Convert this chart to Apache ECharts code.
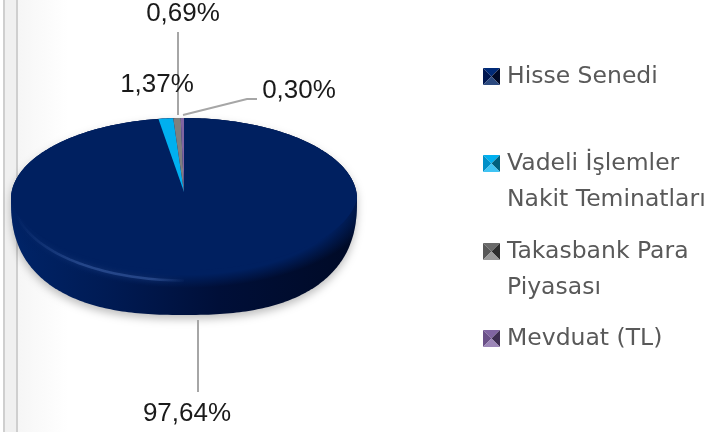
<!DOCTYPE html>
<html lang="en">
<head>
    <meta charset="UTF-8">
    <script src="https://cdn.jsdelivr.net/npm/echarts@6/dist/echarts.min.js"></script>
    <title>Fon dagilimi</title>
    <style>
        html, body { margin: 0; padding: 0; background: #fff; }
    </style>
</head>
<body>
<div id="main" style="width: 722px;height:432px;"></div>

<script>
    var categories = ['Hisse Senedi', 'Vadeli İşlemler\nNakit Teminatları', 'Takasbank Para\nPiyasası', 'Mevduat (TL)'];
    var shares = [97.64, 1.37, 0.69, 0.30];

    var colors = ['#002060', '#00b0f0', '#7f7f7f', '#8064a2'];
    var swatchShades = [
        ['#002a78', '#001650', '#000a28', '#2c4a80'],
        ['#00b0f0', '#0090c8', '#00607f', '#40c4f4'],
        ['#6a6a6a', '#585858', '#2e2e2e', '#9a9a9a'],
        ['#8064a2', '#6a5088', '#3e2e52', '#9c86b8']
    ];

    // label and leader placement, same order as shares
    var labelAt = [[187, 414], [157, 85], [183, 14], [299, 91]];
    var leaders = [
        [[198, 320], [198, 392]],
        null,
        [[178, 32], [178, 115]],
        [[183, 115], [247, 99], [257, 99]]
    ];
    var legendY = [68, 155, 243, 330];

    var cx = 184, cy = 199, rx = 173, ry = 81;
    var apexY = 192;
    var wallDrop = 116;

    // front half of the rim is pulled in a little so the soft face edge underneath shows
    function rim(angle) {
        var f = 1 - 0.12 * Math.max(0, -Math.cos(angle));
        return [cx + rx * f * Math.sin(angle), cy - ry * f * Math.cos(angle)];
    }

    function fmt(v) {
        return v.toFixed(2).replace('.', ',') + '%';
    }

    function arcPoints(from, to) {
        var pts = [];
        var steps = Math.max(2, Math.ceil((to - from) / 0.02));
        for (var i = 0; i <= steps; i++) {
            pts.push(rim(from + (to - from) * i / steps));
        }
        return pts;
    }

    var total = shares.reduce(function (a, b) { return a + b; }, 0);

    function renderSlice(params, api) {
        var before = 0;
        for (var i = 0; i < params.dataIndex; i++) before += shares[i];
        var a0 = before / total * Math.PI * 2;
        var a1 = (before + api.value(0)) / total * Math.PI * 2;
        var pts = [[cx, apexY]].concat(arcPoints(a0, a1));
        return {
            type: 'polygon',
            shape: { points: pts },
            style: { fill: colors[params.dataIndex] }
        };
    }

    // silhouette of the disc: ellipse at the back, squarer curve at the front
    function silhouette(deg) {
        var a = deg * Math.PI / 180;
        var s = Math.sin(a), c = Math.cos(a);
        if (c >= 0) return [rx * s, -ry * c];
        var p = 2 / 2.5;
        return [rx * (s < 0 ? -1 : 1) * Math.pow(Math.abs(s), p), wallDrop * Math.pow(-c, p)];
    }

    var graphics = [];

    // page frame on the left
    graphics.push({ type: 'rect', z: 0, shape: { x: 18, y: 0, width: 50, height: 432 }, style: {
        fill: new echarts.graphic.LinearGradient(0, 0, 1, 0, [
            { offset: 0, color: '#f6f6f6' }, { offset: 1, color: '#ffffff' }
        ])
    } });
    graphics.push({ type: 'rect', z: 0, shape: { x: 3, y: 0, width: 15, height: 432 }, style: { fill: '#f0f0f0' } });
    graphics.push({ type: 'rect', z: 0, shape: { x: 3, y: 0, width: 2, height: 432 }, style: { fill: '#cfcfcf' } });
    graphics.push({ type: 'rect', z: 0, shape: { x: 16, y: 0, width: 2, height: 432 }, style: { fill: '#cfcfcf' } });

    var wallPts = [], facePts = [];
    var k = ry / rx;
    for (var o = 0; o < 360; o += 1) {
        var p = silhouette(o);
        wallPts.push([cx + p[0], cy + p[1]]);
        facePts.push([p[0], p[1] / k]);
    }

    // side wall of the disc
    graphics.push({
        type: 'polygon', z: 1,
        shape: { points: wallPts },
        style: {
            fill: new echarts.graphic.LinearGradient(0, 0, 1, 0, [
                { offset: 0, color: '#002468' },
                { offset: 0.3, color: '#001a52' },
                { offset: 0.6, color: '#000f38' },
                { offset: 1, color: '#000a26' }
            ]),
            shadowColor: 'rgba(0,0,0,0.26)', shadowBlur: 8, shadowOffsetY: 4
        }
    });
    // top face: same outline as the wall, but a squashed radial gradient fades it into the wall
    graphics.push({
        type: 'polygon', z: 2, x: cx, y: cy, scaleY: k,
        shape: { points: facePts },
        style: {
            fill: new echarts.graphic.RadialGradient(0, 0, rx * 1.1, [
                { offset: 0, color: 'rgba(0,32,96,1)' },
                { offset: 0.85, color: 'rgba(0,32,96,1)' },
                { offset: 1, color: 'rgba(0,32,96,0)' }
            ], true)
        }
    });
    // light along the front left edge
    var glow = [];
    for (var g = 180; g <= 258; g += 2) {
        var t = g * Math.PI / 180;
        glow.push([cx + rx * Math.sin(t) * 0.985, cy - (ry + 0.5) * Math.cos(t)]);
    }
    graphics.push({
        type: 'polyline', z: 3,
        shape: { points: glow },
        style: {
            fill: null, lineWidth: 2.5,
            stroke: new echarts.graphic.LinearGradient(0, 0, 1, 0, [
                { offset: 0, color: 'rgba(60,95,165,0)' },
                { offset: 0.4, color: 'rgba(60,95,165,0.55)' },
                { offset: 0.8, color: 'rgba(60,95,165,0.55)' },
                { offset: 1, color: 'rgba(60,95,165,0)' }
            ]),
            shadowColor: 'rgba(60,95,165,0.7)', shadowBlur: 5
        }
    });

    // leaders and value labels
    shares.forEach(function (v, i) {
        if (leaders[i]) {
            graphics.push({
                type: 'polyline', z: 20,
                shape: { points: leaders[i] },
                style: { fill: null, stroke: '#a6a6a6', lineWidth: 2 }
            });
        }
        graphics.push({
            type: 'text', z: 21, x: labelAt[i][0], y: labelAt[i][1],
            style: {
                text: fmt(v), fill: '#1a1a1a', align: 'center', verticalAlign: 'middle',
                font: '26px "Liberation Sans"'
            }
        });
    });

    // legend with pyramid swatches
    categories.forEach(function (name, i) {
        var x = 483, y = legendY[i], s = 17, m = s / 2;
        var c = [x + m, y + m];
        var sh = swatchShades[i];
        var tris = [
            [[x, y], [x + s, y], c],
            [[x, y], [x, y + s], c],
            [[x + s, y], [x + s, y + s], c],
            [[x, y + s], [x + s, y + s], c]
        ];
        tris.forEach(function (pts, n) {
            graphics.push({ type: 'polygon', z: 20, shape: { points: pts }, style: { fill: sh[n] } });
        });
        graphics.push({
            type: 'text', z: 21, x: 507, y: y - 9,
            style: {
                text: name, fill: '#595959', align: 'left', verticalAlign: 'top',
                font: '23.5px "DejaVu Sans"', lineHeight: 36
            }
        });
    });

    var chartDom = document.getElementById('main');
    var myChart = echarts.init(chartDom);
    var option = {
        animation: false,
        graphic: { elements: graphics },
        series: [
            {
                type: 'custom',
                coordinateSystem: 'none',
                z: 2,
                renderItem: renderSlice,
                data: shares.map(function (v) { return [v]; })
            }
        ]
    };
    myChart.setOption(option);
</script>
</body>
</html>
